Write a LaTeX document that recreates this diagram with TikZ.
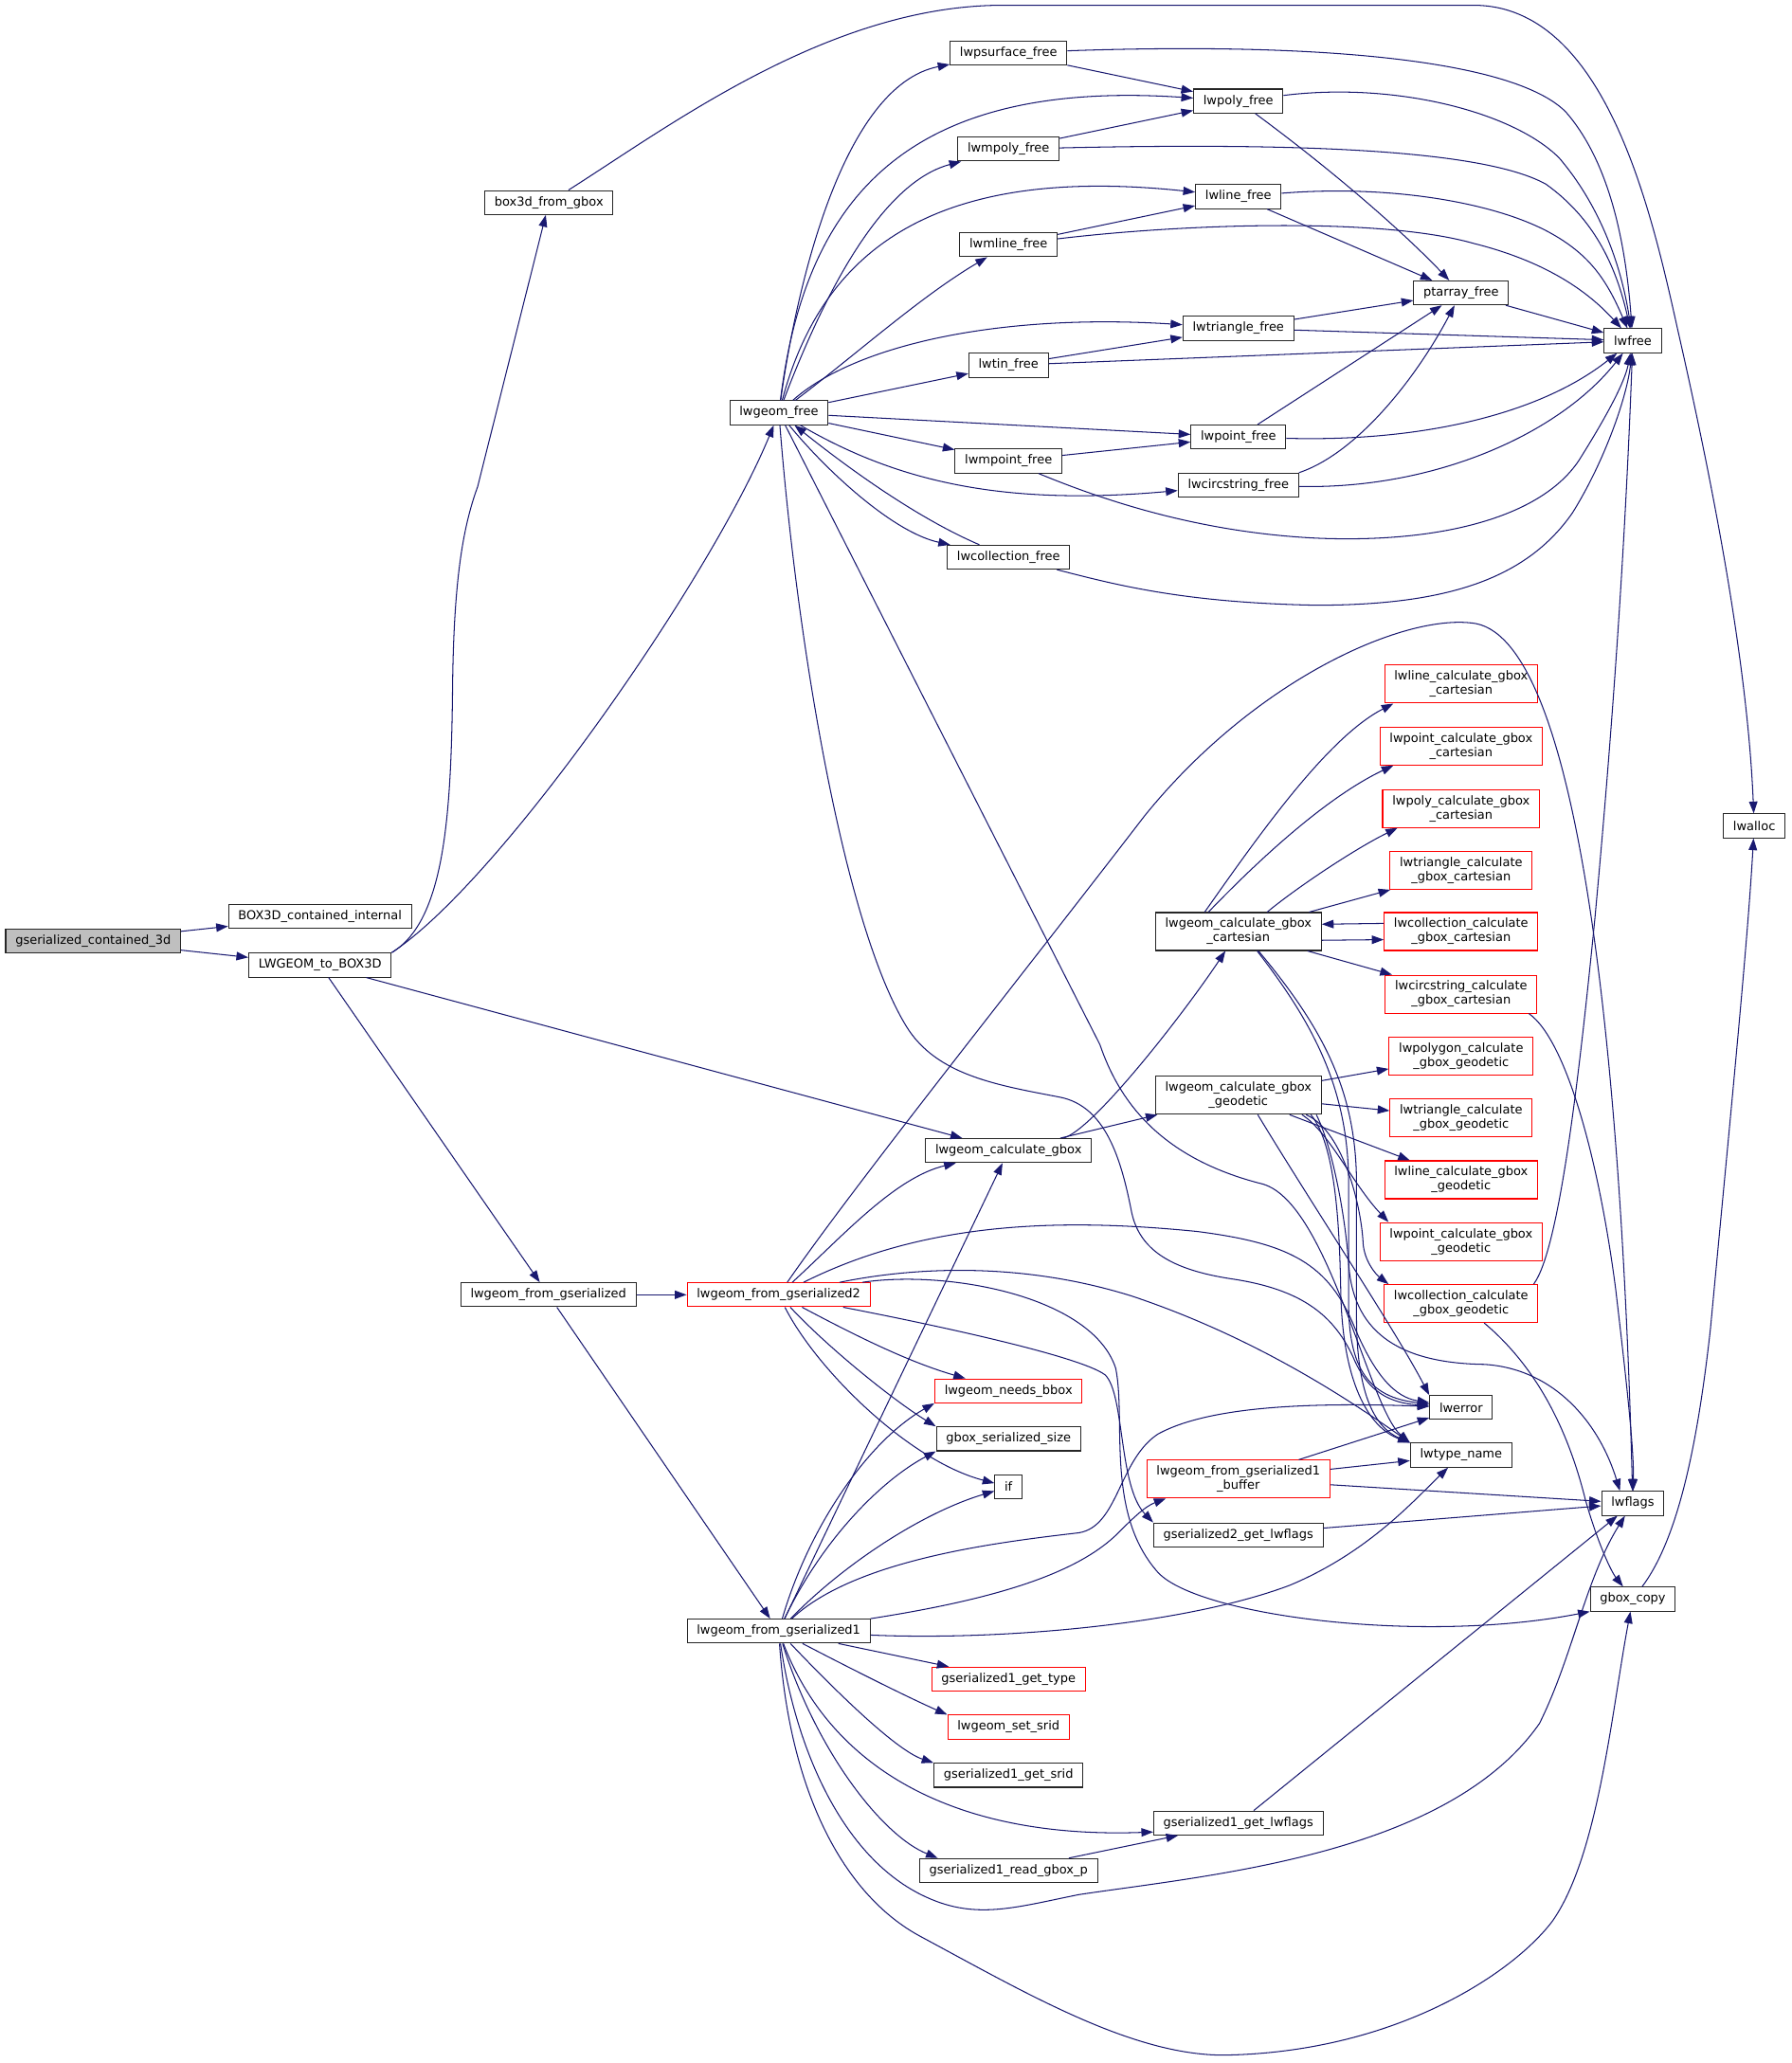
\documentclass[tikz,border=0pt]{standalone}
\usepackage{fontspec}
\setmainfont{DejaVu Sans}
\usetikzlibrary{arrows.meta}
\definecolor{callblue}{HTML}{191970}
\definecolor{rootgray}{HTML}{BFBFBF}
\tikzset{every picture/.style={line width=0.75pt}}
\tikzset{
  fnbox/.style={draw=black!85, line width=0.75pt, fill=white, minimum height=18.2pt, inner xsep=7.4pt, inner ysep=0pt, font=\fontsize{9.35}{10.8}\selectfont},
  fnred/.style={fnbox, draw=red},
  fnbox2/.style={fnbox, align=center, minimum height=28.8pt},
  fnred2/.style={fnbox2, draw=red},
  rootbox/.style={fnbox, fill=rootgray},
  callarrow/.style={draw=callblue, line width=0.75pt, -{Triangle[length=9pt,width=6.4pt]}}
}
\begin{document}
\begin{tikzpicture}[x=1pt,y=1pt,yscale=-1,xscale=1]
\useasboundingbox (0,0) rectangle (1362,1568);

\node[rootbox] (root) at (70.8,715) {gserialized\_contained\_3d};
\node[fnbox] (bci) at (243.2,696.6) {BOX3D\_contained\_internal};
\node[fnbox] (l2b) at (243.2,733.5) {LWGEOM\_to\_BOX3D};
\node[fnbox] (b3d) at (417.2,153.9) {box3d\_from\_gbox};
\node[fnbox] (lfgs) at (416.8,984.1) {lwgeom\_from\_gserialized};
\node[fnred] (lfg2) at (591.8,984.1) {lwgeom\_from\_gserialized2};
\node[fnbox] (lfg1) at (591.8,1239.7) {lwgeom\_from\_gserialized1};
\node[fnbox] (lwgf) at (592,313.7) {lwgeom\_free};

\node[fnbox] (fpsurf) at (766.5,40.2) {lwpsurface\_free};
\node[fnbox] (fmpoly) at (766.5,113.3) {lwmpoly\_free};
\node[fnbox] (fmline) at (766.5,186) {lwmline\_free};
\node[fnbox] (ftin) at (766.5,277.6) {lwtin\_free};
\node[fnbox] (fmpoint) at (766.5,350.4) {lwmpoint\_free};
\node[fnbox] (fcoll) at (766.5,423.5) {lwcollection\_free};
\node[fnbox] (lcg) at (766.5,874.5) {lwgeom\_calculate\_gbox};
\node[fnred] (nbbox) at (766.5,1057.1) {lwgeom\_needs\_bbox};
\node[fnbox] (gsize) at (766.5,1093.6) {gbox\_serialized\_size};
\node[fnbox] (nif) at (766.5,1130.1) {if};
\node[fnred] (g1type) at (766.5,1276.2) {gserialized1\_get\_type};
\node[fnred] (ssrid) at (766.5,1312.7) {lwgeom\_set\_srid};
\node[fnbox] (g1srid) at (766.5,1349.3) {gserialized1\_get\_srid};
\node[fnbox] (g1gbox) at (766.5,1421.7) {gserialized1\_read\_gbox\_p};

\node[fnbox] (fpoly) at (941.2,76.8) {lwpoly\_free};
\node[fnbox] (fline) at (941.2,149.5) {lwline\_free};
\node[fnbox] (ftri) at (941.2,249.5) {lwtriangle\_free};
\node[fnbox] (fpoint) at (941.2,332.1) {lwpoint\_free};
\node[fnbox] (fcirc) at (941.2,368.7) {lwcircstring\_free};
\node[fnbox2] (gcart) at (941.2,708) {lwgeom\_calculate\_gbox\\\_cartesian};
\node[fnbox2] (ggeo) at (941.2,832.5) {lwgeom\_calculate\_gbox\\\_geodetic};
\node[fnred2] (lfg1b) at (941.2,1124.2) {lwgeom\_from\_gserialized1\\\_buffer};
\node[fnbox] (g2flags) at (941.2,1166.6) {gserialized2\_get\_lwflags};
\node[fnbox] (g1flags) at (941.2,1385.6) {gserialized1\_get\_lwflags};

\node[fnbox] (ptfree) at (1110.5,222.6) {ptarray\_free};
\node[fnred2] (cline) at (1110.5,520) {lwline\_calculate\_gbox\\\_cartesian};
\node[fnred2] (cpoint) at (1110.5,567) {lwpoint\_calculate\_gbox\\\_cartesian};
\node[fnred2] (cpoly) at (1110.5,614.5) {lwpoly\_calculate\_gbox\\\_cartesian};
\node[fnred2] (ctri) at (1110.5,661.5) {lwtriangle\_calculate\\\_gbox\_cartesian};
\node[fnred2] (ccoll) at (1110.5,708) {lwcollection\_calculate\\\_gbox\_cartesian};
\node[fnred2] (ccirc) at (1110.5,755.6) {lwcircstring\_calculate\\\_gbox\_cartesian};
\node[fnred2] (gpoly) at (1110.5,802.7) {lwpolygon\_calculate\\\_gbox\_geodetic};
\node[fnred2] (gtri) at (1110.5,849.7) {lwtriangle\_calculate\\\_gbox\_geodetic};
\node[fnred2] (gline) at (1110.5,896.7) {lwline\_calculate\_gbox\\\_geodetic};
\node[fnred2] (gpoint) at (1110.5,943.6) {lwpoint\_calculate\_gbox\\\_geodetic};
\node[fnred2] (gcoll) at (1110.5,990.8) {lwcollection\_calculate\\\_gbox\_geodetic};
\node[fnbox] (lwerr) at (1110.5,1069.8) {lwerror};
\node[fnbox] (ltype) at (1110.5,1106) {lwtype\_name};

\node[fnbox] (lwfree) at (1241,259) {lwfree};
\node[fnbox] (lflags) at (1241,1142.6) {lwflags};
\node[fnbox] (gcopy) at (1241,1215.4) {gbox\_copy};
\node[fnbox] (lwalloc) at (1333.3,627.7) {lwalloc};

\draw[callarrow] (root) -- (bci);
\draw[callarrow] (root) -- (l2b);
\draw[callarrow] (l2b.north east) .. controls (338,700) and (343,620) .. (344,520) .. controls (345,440) and (352,400) .. (363,370) -- (b3d);
\draw[callarrow] (l2b.north east) .. controls (380,670) and (540,440) .. (lwgf);
\draw[callarrow] (l2b) -- (lcg);
\draw[callarrow] (l2b) -- (lfgs);
\draw[callarrow] (b3d) .. controls (510,95) and (630,5) .. (760,4) -- (1120,4) .. controls (1220,4) and (1255,160) .. (1275,250) .. controls (1300,360) and (1328,500) .. (lwalloc);

\draw[callarrow] (lwgf) .. controls (605,220) and (640,65) .. (fpsurf);
\draw[callarrow] (lwgf) .. controls (612,150) and (690,60) .. (fpoly);
\draw[callarrow] (lwgf) .. controls (620,240) and (665,140) .. (fmpoly);
\draw[callarrow] (lwgf) .. controls (625,190) and (710,125) .. (fline);
\draw[callarrow] (lwgf) .. controls (650,270) and (700,225) .. (fmline);
\draw[callarrow] (lwgf) .. controls (650,262) and (760,238) .. (ftri);
\draw[callarrow] (lwgf) -- (ftin);
\draw[callarrow] (lwgf) -- (fpoint);
\draw[callarrow] (lwgf) -- (fmpoint);
\draw[callarrow] (lwgf) .. controls (680,365) and (760,385) .. (fcirc);
\draw[callarrow] (lwgf) .. controls (630,360) and (680,405) .. (fcoll);
\draw[callarrow] (fcoll) .. controls (700,395) and (650,360) .. (lwgf);
\draw[callarrow] (lwgf) .. controls (605,480) and (640,700) .. (688.8,780) .. controls (712,818) and (760,825) .. (806,834) .. controls (840,841) and (852,880) .. (860,921) .. controls (866,950) and (890,965) .. (936,972) .. controls (990,980) and (1015,1000) .. (1030,1035) .. controls (1038,1052) and (1050,1066) .. (lwerr);
\draw[callarrow] (lwgf) -- (836,794) .. controls (850,835) and (880,880) .. (960,900) .. controls (1010,915) and (1040,1070) .. (ltype.north west);

\draw[callarrow] (fpsurf) .. controls (1000,32) and (1150,45) .. (1190,85) .. controls (1225,125) and (1236,190) .. (lwfree);
\draw[callarrow] (fpoly) .. controls (1060,62) and (1150,85) .. (1185,120) .. controls (1215,155) and (1232,200) .. (lwfree);
\draw[callarrow] (fmpoly) .. controls (1000,108) and (1130,115) .. (1175,140) .. controls (1210,165) and (1228,200) .. (lwfree);
\draw[callarrow] (fline) .. controls (1060,140) and (1140,155) .. (1180,178) .. controls (1210,195) and (1222,215) .. (lwfree);
\draw[callarrow] (fmline) .. controls (900,170) and (1050,165) .. (1120,185) .. controls (1180,200) and (1210,225) .. (lwfree);
\draw[callarrow] (ptfree) -- (lwfree);
\draw[callarrow] (ftri) -- (lwfree);
\draw[callarrow] (ftin) -- (lwfree);
\draw[callarrow] (fpoint) .. controls (1080,336) and (1170,315) .. (lwfree);
\draw[callarrow] (fcirc) .. controls (1090,372) and (1185,330) .. (lwfree);
\draw[callarrow] (fmpoint) .. controls (850,385) and (920,405) .. (1000,409) .. controls (1090,413) and (1170,395) .. (1200,350) .. controls (1222,315) and (1235,290) .. (lwfree);
\draw[callarrow] (fcoll) .. controls (850,445) and (900,458) .. (1000,460) .. controls (1100,460) and (1160,440) .. (1195,390) .. controls (1220,350) and (1237,300) .. (lwfree);
\draw[callarrow] (gcoll.15) .. controls (1185,950) and (1200,820) .. (1212,700) .. controls (1225,560) and (1235,420) .. (lwfree);

\draw[callarrow] (fpoly) .. controls (1020,135) and (1070,180) .. (ptfree);
\draw[callarrow] (fline) -- (ptfree);
\draw[callarrow] (ftri) -- (ptfree);
\draw[callarrow] (fpoint) -- (ptfree);
\draw[callarrow] (fcirc.north east) .. controls (1030,345) and (1075,290) .. (ptfree);
\draw[callarrow] (fpsurf) -- (fpoly);
\draw[callarrow] (fmpoly) -- (fpoly);
\draw[callarrow] (fmline) -- (fline);
\draw[callarrow] (ftin) -- (ftri);
\draw[callarrow] (fmpoint) -- (fpoint);

\draw[callarrow] (lcg) .. controls (830,860) and (900,770) .. (gcart);
\draw[callarrow] (lcg) -- (ggeo);
\draw[callarrow] (gcart.150) .. controls (960,630) and (1010,560) .. (cline.196);
\draw[callarrow] (gcart.147) .. controls (960,650) and (1010,605) .. (cpoint.196);
\draw[callarrow] (gcart.34) .. controls (985,675) and (1030,645) .. (cpoly.197);
\draw[callarrow] (gcart) -- (ctri);
\draw[callarrow] (gcart.-6) -- (ccoll.186);
\draw[callarrow] (ccoll.174) -- (gcart.5);
\draw[callarrow] (gcart) -- (ccirc);
\draw[callarrow] (ggeo) -- (gpoly);
\draw[callarrow] (ggeo) -- (gtri);
\draw[callarrow] (ggeo) -- (gline);
\draw[callarrow] (ggeo.-17) .. controls (1010,860) and (1028,900) .. (gpoint.165);
\draw[callarrow] (ggeo.-16) .. controls (1022,860) and (1035,920) .. (1036,945) .. controls (1037,958) and (1045,968) .. (gcoll.165);
\draw[callarrow] (ggeo.-45) .. controls (1000,920) and (1060,1010) .. (lwerr.north west);
\draw[callarrow] (ggeo.-14) .. controls (1012,870) and (1022,920) .. (1025,960) .. controls (1028,1010) and (1060,1036) .. (1128,1037) .. controls (1180,1040) and (1215,1080) .. (lflags.136);
\draw[callarrow] (ggeo.-15) .. controls (1015,870) and (1018,930) .. (1019,980) .. controls (1020,1050) and (1040,1085) .. (ltype.north west);
\draw[callarrow] (gcart.-46) .. controls (1000,780) and (1025,830) .. (1025,900) -- (1025,990) .. controls (1025,1040) and (1040,1062) .. (lwerr);
\draw[callarrow] (gcart.-44) .. controls (1006,782) and (1031,830) .. (1031,900) -- (1031,1000) .. controls (1031,1060) and (1045,1085) .. (ltype.north west);
\draw[callarrow] (ccirc.-16) .. controls (1190,790) and (1215,880) .. (1228,980) .. controls (1235,1040) and (1242,1100) .. (lflags);

\draw[callarrow] (lfgs) -- (lfg2);
\draw[callarrow] (lfgs) -- (lfg1);
\draw[callarrow] (lfg2) .. controls (650,900) and (770,750) .. (870,620) .. controls (955,515) and (1070,465) .. (1122,474) .. controls (1200,490) and (1232,800) .. (lflags);
\draw[callarrow] (lfg2) .. controls (640,940) and (680,895) .. (lcg);
\draw[callarrow] (lfg2) .. controls (700,930) and (800,925) .. (910,936) .. controls (980,945) and (1010,960) .. (1030,1010) .. controls (1045,1045) and (1060,1062) .. (lwerr);
\draw[callarrow] (lfg2) .. controls (700,962) and (780,960) .. (860,985) .. controls (950,1015) and (1020,1060) .. (ltype.north west);
\draw[callarrow] (lfg2) .. controls (720,965) and (830,985) .. (848,1040) .. controls (856,1080) and (840,1150) .. (880,1195) .. controls (910,1228) and (1080,1250) .. (gcopy.south west);
\draw[callarrow] (lfg2) .. controls (700,1005) and (820,1030) .. (840,1045) .. controls (855,1060) and (850,1130) .. (g2flags.north west);
\draw[callarrow] (lfg2) .. controls (650,1015) and (690,1035) .. (nbbox);
\draw[callarrow] (lfg2) .. controls (630,1025) and (680,1065) .. (gsize.north west);
\draw[callarrow] (lfg2) .. controls (620,1040) and (690,1110) .. (nif);

\draw[callarrow] (lfg1) -- (lcg);
\draw[callarrow] (lfg1) .. controls (615,1160) and (660,1095) .. (nbbox.south west);
\draw[callarrow] (lfg1) .. controls (625,1170) and (670,1125) .. (gsize.south west);
\draw[callarrow] (lfg1) .. controls (640,1190) and (700,1150) .. (nif);
\draw[callarrow] (lfg1) .. controls (650,1185) and (760,1172) .. (820,1165) .. controls (850,1160) and (850,1110) .. (880,1090) .. controls (920,1068) and (1000,1066) .. (lwerr);
\draw[callarrow] (lfg1.north east) .. controls (760,1215) and (820,1195) .. (850,1165) .. controls (860,1155) and (870,1145) .. (lfg1b.195);
\draw[callarrow] (lfg1) .. controls (760,1247) and (900,1235) .. (980,1205) .. controls (1040,1180) and (1075,1140) .. (ltype);
\draw[callarrow] (lfg1) -- (g1type);
\draw[callarrow] (lfg1) .. controls (650,1270) and (690,1290) .. (ssrid.north west);
\draw[callarrow] (lfg1) .. controls (630,1280) and (680,1330) .. (g1srid.north west);
\draw[callarrow] (lfg1) .. controls (630,1340) and (720,1398) .. (g1flags.186);
\draw[callarrow] (lfg1) .. controls (620,1330) and (670,1395) .. (g1gbox.170);
\draw[callarrow] (lfg1) .. controls (605,1330) and (640,1410) .. (700,1440) .. controls (740,1460) and (770,1450) .. (820,1440) .. controls (920,1425) and (1100,1410) .. (1170,1310) .. controls (1195,1260) and (1205,1200) .. (lflags);
\draw[callarrow] (lfg1) .. controls (600,1360) and (640,1440) .. (700,1472) .. controls (780,1515) and (860,1562) .. (930,1562) .. controls (1060,1560) and (1150,1500) .. (1180,1460) .. controls (1215,1410) and (1225,1300) .. (gcopy);

\draw[callarrow] (g1gbox) -- (g1flags);
\draw[callarrow] (g1flags) -- (lflags);
\draw[callarrow] (g2flags) -- (lflags);
\draw[callarrow] (lfg1b) -- (lwerr);
\draw[callarrow] (lfg1b) -- (ltype);
\draw[callarrow] (lfg1b) -- (lflags);
\draw[callarrow] (gcoll) .. controls (1175,1045) and (1195,1100) .. (1205,1140) .. controls (1215,1175) and (1225,1195) .. (gcopy);
\draw[callarrow] (gcopy) .. controls (1275,1170) and (1290,1100) .. (1300,1010) .. controls (1315,850) and (1328,720) .. (lwalloc);
\end{tikzpicture}
\end{document}
